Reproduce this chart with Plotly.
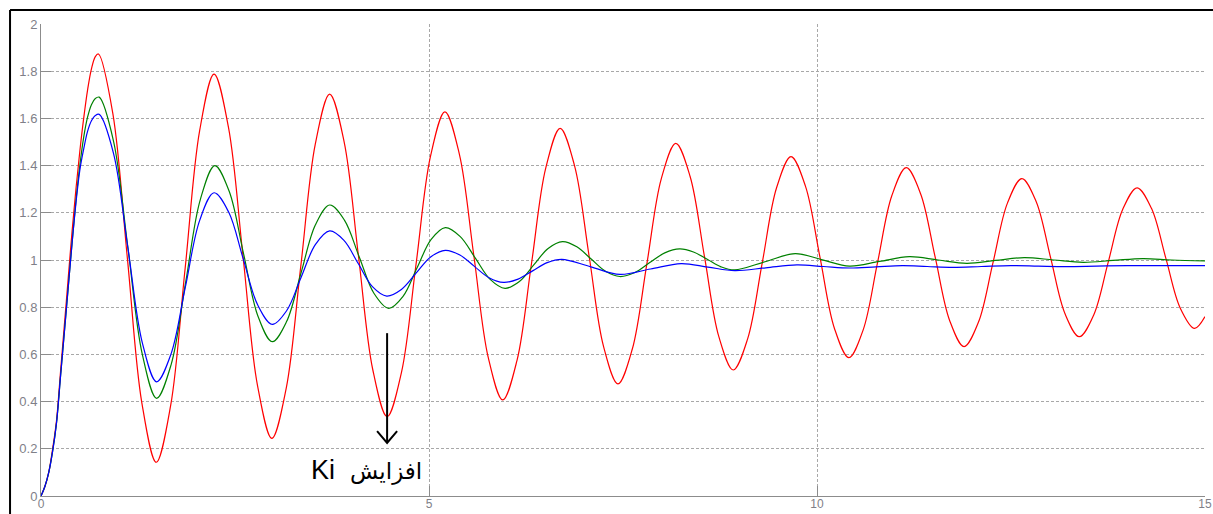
import plotly.graph_objects as go

# ---------------- data ----------------
t_red = [0, 0.05, 0.1, 0.15, 0.2, 0.25, 0.3, 0.35, 0.4, 0.45, 0.5, 0.55, 0.6, 0.65, 0.7, 0.74,
         0.926, 1.113, 1.299, 1.485,
         1.671, 1.858, 2.044, 2.23,
         2.416, 2.603, 2.789, 2.975,
         3.161, 3.348, 3.534, 3.72,
         3.905, 4.09, 4.275, 4.46,
         4.646, 4.833, 5.019, 5.205,
         5.391, 5.578, 5.764, 5.95,
         6.135, 6.32, 6.505, 6.69,
         6.876, 7.063, 7.249, 7.435,
         7.621, 7.808, 7.994, 8.18,
         8.365, 8.55, 8.735, 8.92,
         9.106, 9.293, 9.479, 9.665,
         9.851, 10.038, 10.224, 10.41,
         10.595, 10.78, 10.965, 11.15,
         11.336, 11.523, 11.709, 11.895,
         12.081, 12.268, 12.454, 12.64,
         12.825, 13.01, 13.195, 13.38,
         13.566, 13.753, 13.939, 14.125,
         14.31, 14.495, 14.68, 14.865,
         15.0]
y_red = [0, 0.04, 0.1, 0.2, 0.32, 0.52, 0.72, 0.92, 1.12, 1.3, 1.46, 1.6, 1.72, 1.81, 1.862, 1.873,
         1.62, 1.008, 0.396, 0.143,
         0.384, 0.966, 1.547, 1.788,
         1.562, 1.016, 0.47, 0.244,
         0.458, 0.974, 1.49, 1.703,
         1.503, 1.02, 0.536, 0.336,
         0.525, 0.982, 1.439, 1.628,
         1.449, 1.018, 0.586, 0.407,
         0.576, 0.983, 1.39, 1.558,
         1.399, 1.017, 0.634, 0.475,
         0.624, 0.985, 1.345, 1.494,
         1.354, 1.014, 0.675, 0.534,
         0.666, 0.986, 1.306, 1.438,
         1.313, 1.012, 0.711, 0.586,
         0.704, 0.989, 1.273, 1.391,
         1.28, 1.012, 0.744, 0.633,
         0.737, 0.989, 1.241, 1.345,
         1.247, 1.01, 0.773, 0.675,
         0.767, 0.991, 1.214, 1.306,
         1.219, 1.008, 0.797, 0.71,
         0.76]

t_green = [0, 0.05, 0.1, 0.15, 0.2, 0.25, 0.3, 0.35, 0.4, 0.45, 0.5, 0.55, 0.6, 0.65, 0.7, 0.75,
           0.935, 1.12, 1.305, 1.49,
           1.678, 1.865, 2.053, 2.24,
           2.425, 2.61, 2.795, 2.98,
           3.165, 3.35, 3.535, 3.72,
           3.91, 4.1, 4.29, 4.48,
           4.663, 4.845, 5.028, 5.21,
           5.403, 5.595, 5.788, 5.98,
           6.165, 6.35, 6.535, 6.72,
           6.905, 7.09, 7.275, 7.46,
           7.653, 7.845, 8.038, 8.23,
           8.408, 8.585, 8.763, 8.94,
           9.33, 9.72, 10.07, 10.42, 10.805, 11.19, 11.56, 11.93, 12.3, 12.67,
           13.05, 13.43, 13.815, 14.2, 14.57, 15.0]
y_green = [0, 0.04, 0.1, 0.19, 0.31, 0.5, 0.69, 0.88, 1.07, 1.25, 1.4, 1.52, 1.605, 1.658, 1.684, 1.69,
           1.503, 1.052, 0.601, 0.414,
           0.558, 0.907, 1.256, 1.4,
           1.291, 1.027, 0.763, 0.654,
           0.739, 0.944, 1.148, 1.233,
           1.169, 1.014, 0.859, 0.795,
           0.845, 0.966, 1.087, 1.137,
           1.099, 1.009, 0.918, 0.88,
           0.909, 0.979, 1.049, 1.078,
           1.056, 1.004, 0.952, 0.93,
           0.947, 0.989, 1.03, 1.047,
           1.034, 1.003, 0.971, 0.958,
           0.9925, 1.027, 1.0005, 0.974, 0.994, 1.014, 1.0, 0.986, 0.998, 1.01,
           1.0, 0.99, 0.998, 1.006, 1.0, 0.996]

t_blue = [0, 0.05, 0.1, 0.15, 0.2, 0.25, 0.3, 0.35, 0.4, 0.45, 0.5, 0.55, 0.6, 0.65, 0.7, 0.75,
          0.935, 1.12, 1.305, 1.49,
          1.675, 1.86, 2.045, 2.23,
          2.418, 2.605, 2.793, 2.98,
          3.165, 3.35, 3.535, 3.72,
          3.904, 4.088, 4.271, 4.455,
          4.644, 4.833, 5.021, 5.21,
          5.398, 5.585, 5.773, 5.96,
          6.148, 6.335, 6.523, 6.71,
          7.085, 7.46, 7.855, 8.25, 8.595, 8.94, 9.34, 9.74, 10.08, 10.42,
          10.76, 11.1, 11.42, 11.75, 12.12, 12.5, 12.85, 13.2, 13.6, 14.0, 15.0]
y_blue = [0, 0.04, 0.1, 0.19, 0.31, 0.5, 0.69, 0.88, 1.07, 1.24, 1.38, 1.47, 1.545, 1.59, 1.612, 1.617,
          1.451, 1.051, 0.65, 0.484,
          0.601, 0.885, 1.168, 1.285,
          1.203, 1.006, 0.809, 0.727,
          0.785, 0.925, 1.065, 1.123,
          1.083, 0.985, 0.887, 0.847,
          0.875, 0.944, 1.013, 1.041,
          1.021, 0.973, 0.925, 0.905,
          0.919, 0.954, 0.989, 1.003,
          0.971, 0.939, 0.962, 0.985, 0.97, 0.955, 0.967, 0.979, 0.9725, 0.966,
          0.971, 0.976, 0.9725, 0.969, 0.9725, 0.976, 0.974, 0.972, 0.974, 0.976, 0.976]

x_tickvals = [0, 5, 10, 15]
x_ticktext = ["0", "5", "10", "15"]
y_tickvals = [0, 0.2, 0.4, 0.6, 0.8, 1.0, 1.2, 1.4, 1.6, 1.8, 2.0]
y_ticktext = ["0", "0.2", "0.4", "0.6", "0.8", "1", "1.2", "1.4", "1.6", "1.8", "2"]

annotation_latin = "Ki"
annotation_arabic = "افزایش"

# ---------------- figure ----------------
fig = go.Figure()
for t, y, c in [(t_red, y_red, "#ff0000"), (t_green, y_green, "#008000"), (t_blue, y_blue, "#0000ff")]:
    fig.add_trace(go.Scatter(x=t, y=y, mode="lines",
                             line=dict(color=c, width=1.2, shape="spline", smoothing=1.0),
                             hoverinfo="skip"))

grid = "#a8a8a8"
axcol = "#8c8c8c"
tickcolor = "#7f7f88"

common = dict(showgrid=True, gridcolor=grid, griddash="3px,2px", gridwidth=1,
              showline=True, linecolor=axcol, linewidth=1, mirror=False,
              ticks="inside", ticklen=10, tickcolor=axcol, tickwidth=1,
              zeroline=False, automargin=False)
fig.update_xaxes(range=[0, 15], tickvals=x_tickvals, ticktext=x_ticktext,
                 tickfont=dict(family="Liberation Sans, Arial, sans-serif", size=12, color=tickcolor),
                 ticklabelstandoff=-3, **common)
fig.update_yaxes(range=[0, 2], tickvals=y_tickvals, ticktext=y_ticktext,
                 tickfont=dict(family="Liberation Sans, Arial, sans-serif", size=13, color=tickcolor),
                 **common)

# arrow pointing at the red trough
arrow_x, arrow_top, arrow_tip = 4.46, 0.69, 0.225
head_dx, head_dy = 0.129, 0.05
shapes = [
    dict(type="line", xref="x", yref="y", x0=arrow_x, x1=arrow_x, y0=arrow_top, y1=arrow_tip,
         line=dict(color="black", width=2)),
    dict(type="path", xref="x", yref="y",
         path=f"M {arrow_x - head_dx} {arrow_tip + head_dy} L {arrow_x} {arrow_tip} L {arrow_x + head_dx} {arrow_tip + head_dy}",
         line=dict(color="black", width=2)),
    # window frame (top and left black edges)
    dict(type="line", xref="paper", yref="paper", x0=-0.0266, x1=1.01, y0=1.0297, y1=1.0297,
         line=dict(color="black", width=2)),
    dict(type="line", xref="paper", yref="paper", x0=-0.0266, x1=-0.0266, y0=-0.05, y1=1.0297,
         line=dict(color="black", width=2)),
]

label = f"{annotation_latin}&nbsp;&nbsp;<span style='font-size:23px'>{annotation_arabic}</span>"

fig.update_layout(
    width=1213, height=514,
    margin=dict(l=41, r=8, t=24, b=18),
    paper_bgcolor="white", plot_bgcolor="white",
    showlegend=False,
    shapes=shapes,
    annotations=[dict(x=4.195, y=0.11, xref="x", yref="y", text=label,
                      showarrow=False, xanchor="center", yanchor="middle",
                      font=dict(family="Liberation Sans, DejaVu Sans, Arial, sans-serif",
                                size=27, color="black"))],
)

fig.write_html("out.html", config={"displayModeBar": False},
               post_script="document.body.style.margin='0';document.body.style.overflow='hidden';")
